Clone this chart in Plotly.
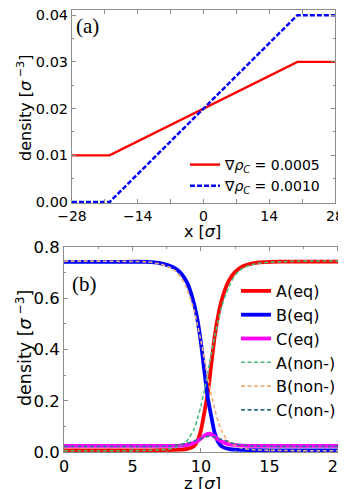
import plotly.graph_objects as go

# ---------- panel (a) data ----------
x_a = [-28, -20, 20, 28]
rho_05 = [0.010, 0.010, 0.030, 0.030]
rho_10 = [0.000, 0.000, 0.040, 0.040]
x_ticks_a = [-28, -14, 0, 14, 28]
y_ticks_a = [0.00, 0.01, 0.02, 0.03, 0.04]

# ---------- panel (b) data ----------
z_b = [0, 2, 4, 6, 7, 8, 8.5, 9, 9.5, 9.75, 10, 10.25, 10.5, 10.75, 11,
       11.25, 11.5, 12, 12.5, 13, 14, 16, 18, 20.3]
A_eq = [0.006, 0.006, 0.006, 0.006, 0.007, 0.008, 0.009, 0.012, 0.023, 0.044,
        0.085, 0.155, 0.23, 0.34, 0.45, 0.53, 0.59, 0.665, 0.703, 0.723,
        0.738, 0.743, 0.743, 0.743]
B_eq = [0.742, 0.742, 0.742, 0.742, 0.737, 0.72, 0.70, 0.66, 0.578, 0.515,
        0.425, 0.315, 0.212, 0.14, 0.075, 0.04, 0.022, 0.012, 0.009, 0.008,
        0.007, 0.006, 0.006, 0.006]
C_eq = [0.024, 0.024, 0.024, 0.024, 0.024, 0.024, 0.025, 0.028, 0.036, 0.043,
        0.053, 0.064, 0.071, 0.069, 0.060, 0.050, 0.041, 0.031, 0.027, 0.025,
        0.024, 0.024, 0.024, 0.024]
A_non = [0.005, 0.005, 0.005, 0.006, 0.008, 0.015, 0.025, 0.045, 0.09, 0.13,
         0.18, 0.24, 0.31, 0.38, 0.45, 0.51, 0.565, 0.64, 0.69, 0.715,
         0.735, 0.743, 0.745, 0.745]
B_non = [0.745, 0.745, 0.744, 0.742, 0.734, 0.712, 0.685, 0.632, 0.552, 0.495,
         0.433, 0.363, 0.29, 0.226, 0.168, 0.12, 0.083, 0.042, 0.024, 0.015,
         0.008, 0.006, 0.005, 0.005]
C_non = [0.022, 0.022, 0.022, 0.022, 0.022, 0.025, 0.029, 0.035, 0.043, 0.048,
         0.053, 0.058, 0.061, 0.061, 0.058, 0.054, 0.050, 0.040, 0.032, 0.027,
         0.023, 0.022, 0.022, 0.022]
x_ticks_b = [0, 5, 10, 15, 20]
y_ticks_b = [0.0, 0.2, 0.4, 0.6, 0.8]

# page body has an 8px margin: figure placed at (8, 8) in the window;
# the figure is made a little taller than the visible area so that the
# bottom axis title can sit at the window's lower edge.
OFF = 8
W, H = 346 - OFF, 489
FONT = "DejaVu Sans"
FRAME = "#8c8c8c"

def px(x):  # window pixel x -> paper fraction
    return (x - OFF) / W

def py(y):  # window pixel y -> paper fraction
    return (H - (y - OFF)) / H

fig = go.Figure()

# panel (a)
fig.add_trace(go.Scatter(x=x_a, y=rho_05, mode="lines", xaxis="x", yaxis="y",
                         line=dict(color="#ff0000", width=2.4),
                         name="∇<i>ρ</i><sub><i>C</i></sub> = 0.0005",
                         legend="legend"))
fig.add_trace(go.Scatter(x=x_a, y=rho_10, mode="lines", xaxis="x", yaxis="y",
                         line=dict(color="#0000ff", width=2.5, dash="5px,2px"),
                         name="∇<i>ρ</i><sub><i>C</i></sub> = 0.0010",
                         legend="legend"))

# panel (b)
series_b = [
    ("A(eq)", A_eq, "#ff0000", 3.8, "solid"),
    ("B(eq)", B_eq, "#0000ff", 3.8, "solid"),
    ("C(eq)", C_eq, "#ff00ff", 3.8, "solid"),
    ("A(non-)", A_non, "#4cbb7f", 1.6, "4px,2.5px"),
    ("B(non-)", B_non, "#f0ae7c", 1.6, "4px,2.5px"),
    ("C(non-)", C_non, "#336e8c", 1.6, "4px,2.5px"),
]
for name, vals, col, w, dash in series_b:
    fig.add_trace(go.Scatter(x=z_b, y=vals, mode="lines", xaxis="x2", yaxis="y2",
                             line=dict(color=col, width=w, dash=dash, shape="spline",
                                       smoothing=0.8),
                             name=name, legend="legend2"))

def axis_common(size):
    return dict(showline=True, linecolor=FRAME, linewidth=1, mirror="ticks",
                ticks="inside", tickcolor=FRAME, ticklen=4, tickwidth=1,
                showgrid=False, zeroline=False, ticklabeloverflow="allow",
                tickfont=dict(family=FONT, size=size, color="black"))

xa = axis_common(14)
xa.update(domain=[px(72), px(335)], range=[-28, 28], anchor="y",
          tickvals=x_ticks_a, ticktext=["−28", "−14", "0", "14", "28"],
          minor=dict(ticks="inside", dtick=7, tick0=0, ticklen=4, tickcolor=FRAME))
ya = axis_common(14.5)
ya.update(domain=[py(203), py(10)], range=[-0.0002, 0.0411], anchor="x",
          tickvals=y_ticks_a, ticktext=[f"{v:.2f}" for v in y_ticks_a],
          minor=dict(ticks="inside", dtick=0.005, tick0=0, ticklen=2, tickcolor=FRAME))
xb = axis_common(16)
xb.update(domain=[px(64), px(342)], range=[0, 20.3], anchor="y2",
          tickvals=x_ticks_b,
          minor=dict(ticks="inside", dtick=2.5, tick0=0, ticklen=2, tickcolor=FRAME))
yb = axis_common(16.5)
yb.update(domain=[py(452), py(247)], range=[0, 0.8], anchor="x2",
          tickvals=y_ticks_b, ticktext=[f"{v:.1f}" for v in y_ticks_b],
          minor=dict(ticks="inside", dtick=0.1, tick0=0, ticklen=2, tickcolor=FRAME))

def ann(text, x, y, size, family=FONT, angle=0, xanchor="center"):
    return dict(text=text, x=px(x), y=py(y), xref="paper", yref="paper",
                xanchor=xanchor, yanchor="middle", showarrow=False, textangle=angle,
                font=dict(family=family, size=size, color="black"))

fig.update_layout(
    width=W, height=H,
    margin=dict(l=0, r=0, t=0, b=0, autoexpand=False),
    paper_bgcolor="white", plot_bgcolor="white",
    font=dict(family=FONT, color="black"),
    xaxis=xa, yaxis=ya, xaxis2=xb, yaxis2=yb,
    legend=dict(x=px(185), y=py(149), xanchor="left", yanchor="top",
                bgcolor="rgba(0,0,0,0)", tracegroupgap=0,
                font=dict(family=FONT, size=14, color="black")),
    legend2=dict(x=px(236), y=py(274), xanchor="left", yanchor="top",
                 bgcolor="rgba(0,0,0,0)", tracegroupgap=0,
                 font=dict(family=FONT, size=16, color="black")),
    annotations=[
        ann("(a)", 74, 26, 21, family="Liberation Serif", xanchor="left"),
        ann("(b)", 70, 284, 21, family="Liberation Serif", xanchor="left"),
        ann("x [<i>σ</i>]", 203, 232, 16),
        ann("z [<i>σ</i>]", 203, 483, 16.5),
        ann("density [<i>σ</i><sup> −3</sup>]", 24, 108, 16, angle=-90),
        ann("density [<i>σ</i><sup> −3</sup>]", 24, 348, 17.5, angle=-90),
    ],
)

fig.write_html("out.html")
